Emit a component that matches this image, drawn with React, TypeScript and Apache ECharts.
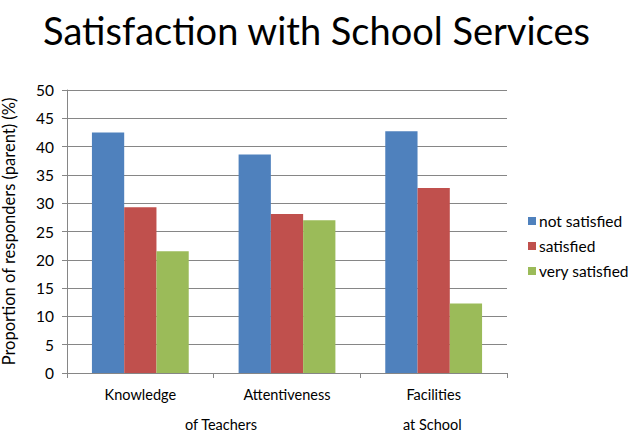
import React, { useEffect, useRef } from "react";
import * as echarts from "echarts";

const categories = ["Knowledge", "Attentiveness", "Facilities"];
const groupLabels = ["of Teachers", "at School"];
const seriesNames = ["not satisfied", "satisfied", "very satisfied"];
const notSatisfied = [42.5, 38.6, 42.7];
const satisfied = [29.3, 28.1, 32.7];
const verySatisfied = [21.5, 27.0, 12.3];
const colors = ["#4F81BD", "#C0504D", "#9BBB59"];

export default function App() {
  const ref = useRef<HTMLDivElement>(null);
  useEffect(() => {
    const chart = echarts.init(ref.current!, undefined, { renderer: "svg" });
    const font = "Lato, 'Open Sans', sans-serif";
    chart.setOption({
      animation: false,
      textStyle: { fontFamily: font },
      title: {
        text: "Satisfaction with School Services",
        left: "center",
        top: 6,
        textStyle: { fontSize: 38, fontWeight: "normal", color: "#000", fontFamily: font },
      },
      grid: { left: 67, right: 126, top: 90, bottom: 62, outerBoundsMode: "none", containLabel: false },
      legend: {
        orient: "vertical",
        left: 523,
        top: 208,
        itemWidth: 8,
        itemHeight: 8,
        itemGap: 9,
        icon: "rect",
        textStyle: { fontSize: 15.5, color: "#000", fontFamily: font, padding: [0, 0, 0, -2] },
        data: seriesNames,
      },
      xAxis: {
        type: "category",
        data: categories,
        axisLine: { lineStyle: { color: "#868686" } },
        axisTick: { show: true, length: 5, lineStyle: { color: "#868686" } },
        axisLabel: { fontSize: 14.5, color: "#000", margin: 14, fontFamily: font },
      },
      yAxis: {
        type: "value",
        min: 0,
        max: 50,
        interval: 5,
        name: "Proportion of responders (parent) (%)",
        nameLocation: "middle",
        nameGap: 50,
        nameTextStyle: { fontSize: 16.5, color: "#000", fontFamily: font },
        axisLine: { show: true, lineStyle: { color: "#868686" } },
        axisTick: { show: true, length: 5, lineStyle: { color: "#868686" } },
        axisLabel: { fontSize: 15.5, color: "#000", margin: 13, fontFamily: font },
        splitLine: { lineStyle: { color: "#868686" } },
      },
      series: [notSatisfied, satisfied, verySatisfied].map((d, i) => ({
        name: seriesNames[i],
        type: "bar",
        data: d,
        barGap: "0%",
        barCategoryGap: "34%",
        itemStyle: { color: colors[i] },
      })),
      graphic: [
        {
          type: "text",
          left: 185,
          top: 417,
          style: { text: groupLabels[0], fontSize: 14.5, fill: "#000", fontFamily: font },
        },
        {
          type: "text",
          left: 403,
          top: 417,
          style: { text: groupLabels[1], fontSize: 14.5, fill: "#000", fontFamily: font },
        },
      ],
    });
    return () => chart.dispose();
  }, []);
  return <div ref={ref} style={{ width: 633, height: 435, position: "absolute", left: 0, top: 0, background: "#fff" }} />;
}
